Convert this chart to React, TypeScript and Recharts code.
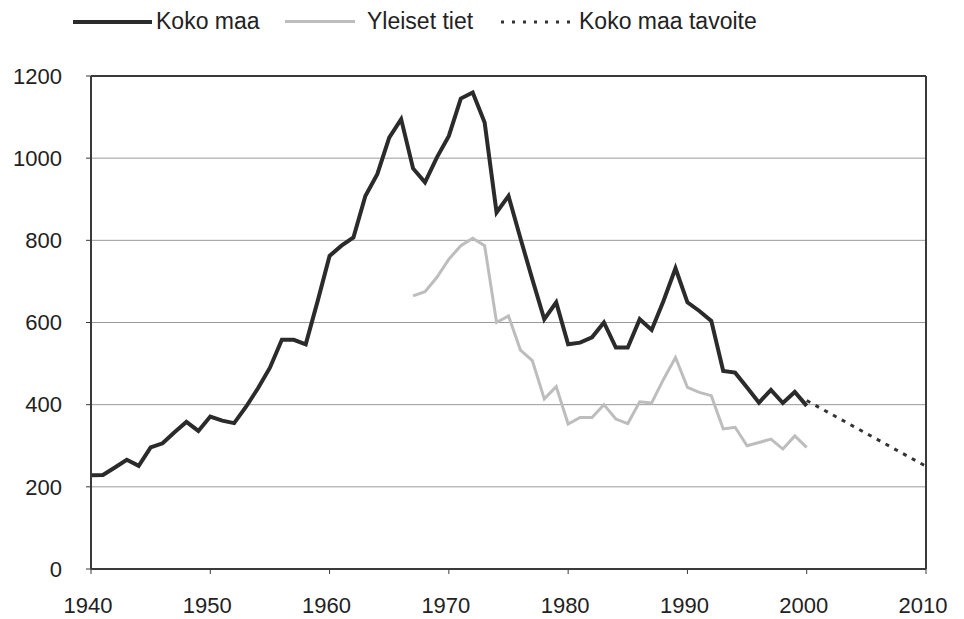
import React from "react"
import { LineChart, Line, XAxis, YAxis, CartesianGrid, ReferenceLine, Legend } from "recharts"

const years = [
  1940, 1941, 1942, 1943, 1944, 1945, 1946, 1947, 1948, 1949,
  1950, 1951, 1952, 1953, 1954, 1955, 1956, 1957, 1958, 1959,
  1960, 1961, 1962, 1963, 1964, 1965, 1966, 1967, 1968, 1969,
  1970, 1971, 1972, 1973, 1974, 1975, 1976, 1977, 1978, 1979,
  1980, 1981, 1982, 1983, 1984, 1985, 1986, 1987, 1988, 1989,
  1990, 1991, 1992, 1993, 1994, 1995, 1996, 1997, 1998, 1999,
  2000,
]

const kokoMaa = [
  228, 229, 247, 266, 251, 296, 306, 333, 358, 336,
  371, 361, 355, 395, 440, 490, 558, 558, 547, 652,
  762, 787, 807, 908, 961, 1050, 1095, 975, 941, 1002,
  1054, 1145, 1160, 1087, 868, 908, 805, 705, 608, 649,
  547, 551, 564, 600, 539, 539, 608, 582, 653, 732,
  649, 628, 604, 482, 478, 442, 405, 436, 404, 431,
  397,
]

// Yleiset tiet starts in 1967
const yleisetStart = 1967
const yleisetTiet = [
  665, 675, 710,
  754, 787, 805, 787, 600, 616, 533, 507, 414, 444,
  353, 369, 369, 400, 365, 354, 407, 404, 462, 515,
  442, 430, 422, 341, 345, 300, 308, 316, 292, 324,
  296,
]

const tavoiteYears = [2000, 2010]
const tavoite = [410, 250]

const xTicks = [1940, 1950, 1960, 1970, 1980, 1990, 2000, 2010]
const yTicks = [0, 200, 400, 600, 800, 1000, 1200]

const rows: { year: number; koko?: number; yleiset?: number; tavoite?: number }[] = years.map((y, i) => ({
  year: y,
  koko: kokoMaa[i],
  yleiset: y >= yleisetStart ? yleisetTiet[y - yleisetStart] : undefined,
}))
tavoiteYears.forEach((y, i) => {
  const row = rows.find((r) => r.year === y)
  if (row) row.tavoite = tavoite[i]
  else rows.push({ year: y, tavoite: tavoite[i] })
})

const font = '"Liberation Sans", Arial, sans-serif'
const frame = "#3a3a3a"

function ChartLegend() {
  const text: React.CSSProperties = { position: "absolute", top: 7, fontSize: 23, color: "#222", lineHeight: "28px" }
  return (
    <div style={{ position: "relative", width: 964, height: 40, fontFamily: font }}>
      <div style={{ position: "absolute", left: 73, top: 20, width: 79, borderTop: "4px solid #2b2b2b" }} />
      <span style={{ ...text, left: 156 }}>Koko maa</span>
      <div style={{ position: "absolute", left: 285, top: 20, width: 70, borderTop: "3px solid #bdbdbd" }} />
      <span style={{ ...text, left: 367 }}>Yleiset tiet</span>
      <svg style={{ position: "absolute", left: 499, top: 16 }} width={76} height={10}>
        <line x1={2} y1={6} x2={76} y2={6} stroke="#333" strokeWidth={3} strokeDasharray="3 8" />
      </svg>
      <span style={{ ...text, left: 579 }}>Koko maa tavoite</span>
    </div>
  )
}

export default function App() {
  return (
    <div style={{ position: "absolute", left: 0, top: 0, background: "#fff", fontFamily: font }}>
      <LineChart width={964} height={619} data={rows} margin={{ top: 36, right: 38, bottom: 0, left: 0 }}>
        <CartesianGrid vertical={false} stroke="#9a9a9a" strokeWidth={1} />
        <XAxis
          dataKey="year"
          type="number"
          domain={[1940, 2010]}
          ticks={xTicks}
          height={50}
          tickSize={5}
          tickMargin={23}
          axisLine={{ stroke: frame, strokeWidth: 2 }}
          tickLine={{ stroke: frame }}
          tick={{ fill: "#222", fontSize: 22, fontFamily: font, dx: -3 }}
        />
        <YAxis
          domain={[0, 1200]}
          ticks={yTicks}
          width={91}
          tickSize={5}
          tickMargin={24}
          axisLine={{ stroke: frame, strokeWidth: 2 }}
          tickLine={{ stroke: frame }}
          tick={{ fill: "#222", fontSize: 22, fontFamily: font }}
        />
        <ReferenceLine y={1200} stroke={frame} strokeWidth={2} />
        <ReferenceLine x={2010} stroke={frame} strokeWidth={2} />
        <Legend verticalAlign="top" wrapperStyle={{ top: 0, left: 0, width: 964 }} content={() => <ChartLegend />} />
        <Line
          dataKey="yleiset"
          type="linear"
          stroke="#bdbdbd"
          strokeWidth={3}
          dot={false}
          activeDot={false}
          isAnimationActive={false}
          name="Yleiset tiet"
        />
        <Line
          dataKey="koko"
          type="linear"
          stroke="#2b2b2b"
          strokeWidth={4}
          dot={false}
          activeDot={false}
          isAnimationActive={false}
          name="Koko maa"
        />
        <Line
          dataKey="tavoite"
          type="linear"
          stroke="#333"
          strokeWidth={3}
          strokeDasharray="4 6"
          connectNulls
          dot={false}
          activeDot={false}
          isAnimationActive={false}
          name="Koko maa tavoite"
        />
      </LineChart>
    </div>
  )
}
